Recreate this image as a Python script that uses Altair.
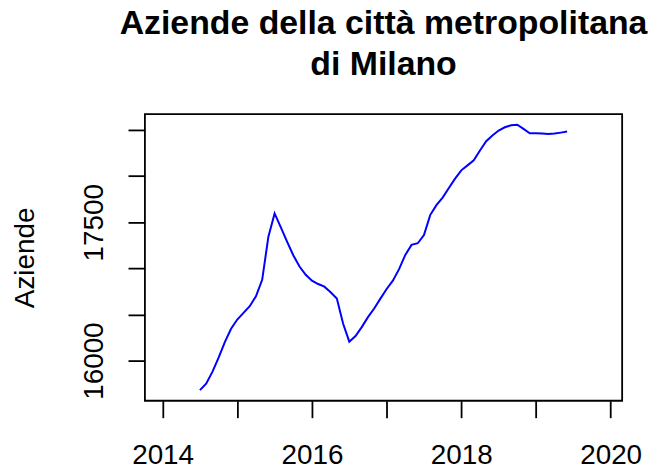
import altair as alt
import pandas as pd

# Monthly series, July 2014 - June 2019
months = pd.date_range("2014-07-01", "2019-06-01", freq="MS")
aziende = [15680, 15750, 15878, 16032, 16201, 16345, 16445, 16517, 16589, 16697,
           16876, 17343, 17595, 17444, 17290, 17142, 17020, 16930, 16866, 16830,
           16801, 16740, 16672, 16402, 16205, 16266, 16363, 16471, 16564, 16672,
           16776, 16866, 16991, 17146, 17254, 17272, 17361, 17577, 17685, 17767,
           17871, 17972, 18062, 18116, 18170, 18277, 18378, 18439, 18493, 18529,
           18550, 18557, 18511, 18464, 18464, 18461, 18457, 18461, 18471, 18482]

x_ticks = [2014, 2015, 2016, 2017, 2018, 2019, 2020]
y_ticks = [16000, 16500, 17000, 17500, 18000, 18500]

df = pd.DataFrame({
    "anno": [m.year + (m.month - 1) / 12 for m in months],
    "Aziende": aziende,
})

FONT = "Liberation Sans"

line = alt.Chart(df).mark_line(color="#0000FF", strokeWidth=2).encode(
    x=alt.X("anno:Q",
            scale=alt.Scale(domain=[2013.763, 2020.154], nice=False, zero=False),
            axis=alt.Axis(values=x_ticks, format="d", title=None,
                          labelExpr="datum.value % 2 == 0 ? datum.label : ''",
                          grid=False, domain=False, tickSize=17, tickWidth=1.8,
                          tickColor="black", labelFont=FONT, labelFontSize=28,
                          labelColor="black", labelPadding=46,
                          labelBaseline="alphabetic", labelAlign="center",
                          labelFlush=False, labelOverlap=False)),
    y=alt.Y("Aziende:Q",
            scale=alt.Scale(domain=[15564.7, 18672.4], nice=False, zero=False),
            axis=alt.Axis(values=y_ticks, format="d", title="Aziende",
                          labelExpr="(datum.value == 16000 || datum.value == 17500) ? datum.label : ''",
                          grid=False, domain=False, tickSize=17, tickWidth=1.8,
                          tickColor="black", labelFont=FONT, labelFontSize=28,
                          labelColor="black", labelAngle=-90, labelAlign="center",
                          labelBaseline="alphabetic", labelPadding=25.4,
                          labelFlush=False, labelOverlap=False,
                          titleFont=FONT, titleFontSize=28, titleFontWeight="normal",
                          titleColor="black", titleAngle=-90, titleAlign="center",
                          titleBaseline="alphabetic", titleX=-112.4, titleY=144.2)),
)

chart = line.properties(
    width=480,
    height=288.4,
    background="white",
    title=alt.TitleParams(
        text=["Aziende della città metropolitana\u00a0", "\u00a0di Milano"],
        font=FONT, fontSize=34, fontWeight="bold", color="black",
        lineHeight=41, offset=32, anchor="middle"),
    autosize=alt.AutoSizeParams(type="none"),
    padding={"left": 137.7, "top": 105.3, "right": 26, "bottom": 72},
).configure_view(stroke="black", strokeWidth=1.8)

chart.save("out.html", embed_options={"renderer": "svg", "actions": False})
